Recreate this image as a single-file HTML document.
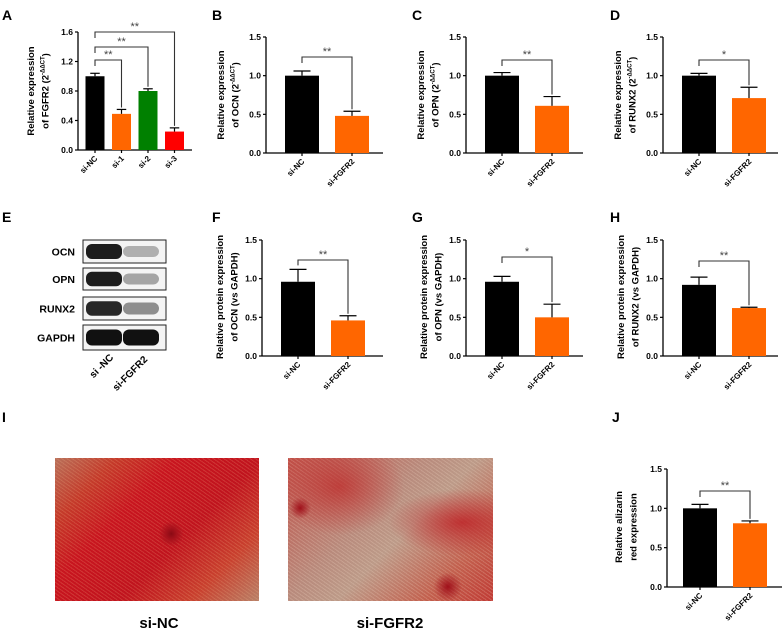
<!DOCTYPE html>
<html><head><meta charset="utf-8">
<style>
body{margin:0;background:#fff;}
#fig{position:relative;width:784px;height:630px;overflow:hidden;font-family:"Liberation Sans",Arial,sans-serif;}
.photo{position:absolute;top:458px;height:143px;}
#p1{left:55px;width:204px;background:
 radial-gradient(circle at 57% 53%,#8a0a14 0,#a8121c 4%,transparent 9%),
 repeating-linear-gradient(35deg,rgba(255,200,150,.18) 0 1px,transparent 1px 3px),
 linear-gradient(135deg,#b8705a 0%,#c43a2a 18%,#c8151f 35%,#c0141e 60%,#c8402e 80%,#b88068 100%);}
#p2{left:288px;width:205px;background:
 radial-gradient(circle at 6% 35%,#a0101a 0,transparent 5%),
 radial-gradient(circle at 78% 90%,#a0101a 0,transparent 7%),
 radial-gradient(ellipse at 85% 45%,rgba(190,30,35,.8) 0,transparent 30%),
 radial-gradient(ellipse at 25% 20%,rgba(190,40,40,.7) 0,transparent 30%),
 repeating-linear-gradient(35deg,rgba(255,230,210,.2) 0 1px,transparent 1px 3px),
 linear-gradient(135deg,#c05048 0%,#b88a7c 40%,#bc9a88 55%,#c2604e 80%,#c03a34 100%);}
</style></head>
<body>
<div id="fig">
<svg id="svg" width="784" height="630" style="position:absolute;left:0;top:0" font-family="Liberation Sans, Arial, sans-serif">
 <g font-weight="bold" font-size="14" fill="#000">
  <text x="2" y="20">A</text>
  <text x="212" y="20">B</text>
  <text x="412" y="20">C</text>
  <text x="610" y="20">D</text>
  <text x="2" y="222">E</text>
  <text x="212" y="222">F</text>
  <text x="412" y="222">G</text>
  <text x="610" y="222">H</text>
  <text x="2" y="422">I</text>
  <text x="612" y="422">J</text>
 </g>
 <g id="blot"></g>
 <text x="159" y="628" font-size="15" font-weight="bold" text-anchor="middle">si-NC</text>
 <text x="390" y="628" font-size="15" font-weight="bold" text-anchor="middle">si-FGFR2</text>
</svg>
<div class="photo" id="p1"></div>
<div class="photo" id="p2"></div>
</div>
<script>
const catsA=["si-NC","si-1","si-2","si-3"];
const valsA=[1.0,0.49,0.80,0.25];
const errsA=[0.04,0.06,0.03,0.05];
const ticksA=[0,0.4,0.8,1.2,1.6];
const cats2=["si-NC","si-FGFR2"];
const valsB=[1.0,0.48]; const errsB=[0.06,0.06];
const valsC=[1.0,0.61]; const errsC=[0.04,0.12];
const valsD=[1.0,0.71]; const errsD=[0.03,0.14];
const valsF=[0.96,0.46]; const errsF=[0.16,0.06];
const valsG=[0.96,0.50]; const errsG=[0.07,0.17];
const valsH=[0.92,0.62]; const errsH=[0.10,0.01];
const valsJ=[1.0,0.81]; const errsJ=[0.05,0.03];
const ticks15=[0,0.5,1.0,1.5];
const blotRows=["OCN","OPN","RUNX2","GAPDH"];

const NS="http://www.w3.org/2000/svg";
const svg=document.getElementById('svg');
function el(tag,attrs,parent,text){const e=document.createElementNS(NS,tag);for(const k in attrs)e.setAttribute(k,attrs[k]);if(text!==undefined)e.textContent=text;(parent||svg).appendChild(e);return e;}

function chart(o){
  const g=el('g',{});
  
  
  const y=v=>o.y0-(v-0)/(o.max)*(o.y0-o.yTop);
  const cx=i=>o.ax+o.first+i*o.step;
  const ya=el('line',{x1:o.ax,y1:o.yTop,x2:o.ax,y2:o.y0,stroke:'#000','stroke-width':1.3},g);
  
  
  const xa=el('line',{x1:o.ax,y1:o.y0,x2:o.xEnd,y2:o.y0,stroke:'#000','stroke-width':1.3},g);
  
  
  o.ticks.forEach(t=>{
    el('line',{x1:o.ax-3,y1:y(t),x2:o.ax,y2:y(t),stroke:'#000','stroke-width':1.2},g);
    const tl=el('text',{x:o.ax-5,y:y(t)+3,'font-size':8.5,'font-weight':'bold','text-anchor':'end'},g,t.toFixed(1));
    
    
  });
  o.vals.forEach((v,i)=>{
    const b=el('rect',{x:cx(i)-o.bw/2,y:y(v),width:o.bw,height:o.y0-y(v),fill:o.colors[i]},g);
    
    
    const e=o.errs[i];
    el('line',{x1:cx(i),y1:y(v),x2:cx(i),y2:y(v+e),stroke:'#000','stroke-width':1.2},g);
    el('line',{x1:cx(i)-o.bw/4,y1:y(v+e),x2:cx(i)+o.bw/4,y2:y(v+e),stroke:'#000','stroke-width':1.2},g);
    el('line',{x1:cx(i),y1:o.y0,x2:cx(i),y2:o.y0+3,stroke:'#000','stroke-width':1.2},g);
    const xl=el('text',{transform:`translate(${cx(i)+3},${o.y0+9}) rotate(-45)`,'font-size':8,'font-weight':'bold','text-anchor':'end'},g,o.cats[i]);
    
    
  });
  o.sig.forEach(s=>{
    const x1=cx(0),x2=cx(s.to),by=s.y;
    const t1=y(o.vals[0]+o.errs[0])-4, t2=y(o.vals[s.to]+o.errs[s.to])-2;
    const p=el('path',{d:`M${x1},${Math.min(by+6,t1)} L${x1},${by} L${x2},${by} L${x2},${t2}`,fill:'none',stroke:'#333','stroke-width':1.1},g);
    
    
    const st=el('text',{x:(x1+x2)/2,y:by-2,'font-size':11,'text-anchor':'middle',fill:'#444'},g,s.label);
    
    
  });
  const lbl=el('text',{transform:`translate(${o.ax+o.lx},${o.ly}) rotate(-90)`,'font-size':9.5,'font-weight':'bold','text-anchor':'middle'},g);
  
  
  el('tspan',{x:0,dy:0},lbl,o.l1);
  el('tspan',{x:0,dy:14.5},lbl,o.l2);
  if(o.sup){el('tspan',{'font-size':6,dy:-4},lbl,o.sup);el('tspan',{dy:4},lbl,')');}
}
const K='#000',O='#ff6600';
const row1={y0:153,yTop:37,max:1.5,ticks:ticks15,cats:cats2,first:36,step:50,bw:34,colors:[K,O],lx:-42,ly:95};
chart(Object.assign({},{name:'chart-a-fgfr2',ax:78,y0:150,yTop:32,max:1.6,ticks:ticksA,cats:catsA,vals:valsA,errs:errsA,first:17,step:26.5,bw:19,xEnd:192,colors:[K,O,'#008000','#ff0000'],sig:[{to:1,y:60,label:'**'},{to:2,y:47,label:'**'},{to:3,y:32,label:'**'}],lx:-44,ly:91,l1:'Relative expression',l2:'of FGFR2 (2',sup:'-ΔΔCT'}));
chart(Object.assign({},row1,{name:'chart-b-ocn',ax:266,xEnd:383,vals:valsB,errs:errsB,sig:[{to:1,y:57,label:'**'}],l1:'Relative expression',l2:'of OCN (2',sup:'-ΔΔCT'}));
chart(Object.assign({},row1,{name:'chart-c-opn',ax:466,xEnd:583,vals:valsC,errs:errsC,sig:[{to:1,y:60,label:'**'}],l1:'Relative expression',l2:'of OPN (2',sup:'-ΔΔCT'}));
chart(Object.assign({},row1,{name:'chart-d-runx2',ax:663,xEnd:778,vals:valsD,errs:errsD,sig:[{to:1,y:60,label:'*'}],l1:'Relative expression',l2:'of RUNX2 (2',sup:'-ΔΔCT'}));
const row2={y0:356,yTop:240,max:1.5,ticks:ticks15,cats:cats2,first:36,step:50,bw:34,colors:[K,O],lx:-39,ly:297};
chart(Object.assign({},row2,{name:'chart-f-ocn-protein',ax:262,xEnd:383,vals:valsF,errs:errsF,sig:[{to:1,y:260,label:'**'}],l1:'Relative protein expression',l2:'of OCN (vs GAPDH)'}));
chart(Object.assign({},row2,{name:'chart-g-opn-protein',ax:466,xEnd:583,vals:valsG,errs:errsG,sig:[{to:1,y:257,label:'*'}],l1:'Relative protein expression',l2:'of OPN (vs GAPDH)'}));
chart(Object.assign({},row2,{name:'chart-h-runx2-protein',ax:663,xEnd:778,vals:valsH,errs:errsH,sig:[{to:1,y:261,label:'**'}],l1:'Relative protein expression',l2:'of RUNX2 (vs GAPDH)'}));
chart(Object.assign({},{name:'chart-j-alizarin',ax:667,y0:587,yTop:469,max:1.5,ticks:ticks15,cats:cats2,first:33,step:50,bw:34,colors:[K,O],xEnd:782,vals:valsJ,errs:errsJ,sig:[{to:1,y:491,label:'**'}],lx:-45,ly:527,l1:'Relative alizarin',l2:'red expression'}));

// western blot
const blot=document.getElementById('blot');
const rowsY=[240,268,297,325], rowsH=[23,22,23,25];
const intens=[[0.95,0.3],[0.95,0.35],[0.9,0.45],[1,1]];
blotRows.forEach((r,i)=>{
  const box=el('rect',{x:83,y:rowsY[i],width:83,height:rowsH[i],fill:'#f4f4f4',stroke:'#222','stroke-width':1},blot);
  
  
  const cy=rowsY[i]+rowsH[i]/2;
  [[104,intens[i][0]],[141,intens[i][1]]].forEach(([x,a])=>{
    el('rect',{x:x-18,y:cy-(rowsH[i]*0.2+a*3),width:36,height:2*(rowsH[i]*0.2+a*3),rx:6,fill:'#111','fill-opacity':a},blot);
  });
  const t=el('text',{x:75,y:cy+4,'font-size':10.5,'font-weight':'bold','text-anchor':'end'},blot,r);
  
  
});
['si -NC','si-FGFR2'].forEach((s,i)=>{
  const t=el('text',{transform:`translate(${i?148:114},${i?360:358}) rotate(-45)`,'font-size':10,'font-weight':'bold','text-anchor':'end'},blot,s);
  
  
});
</script>
</body></html>
